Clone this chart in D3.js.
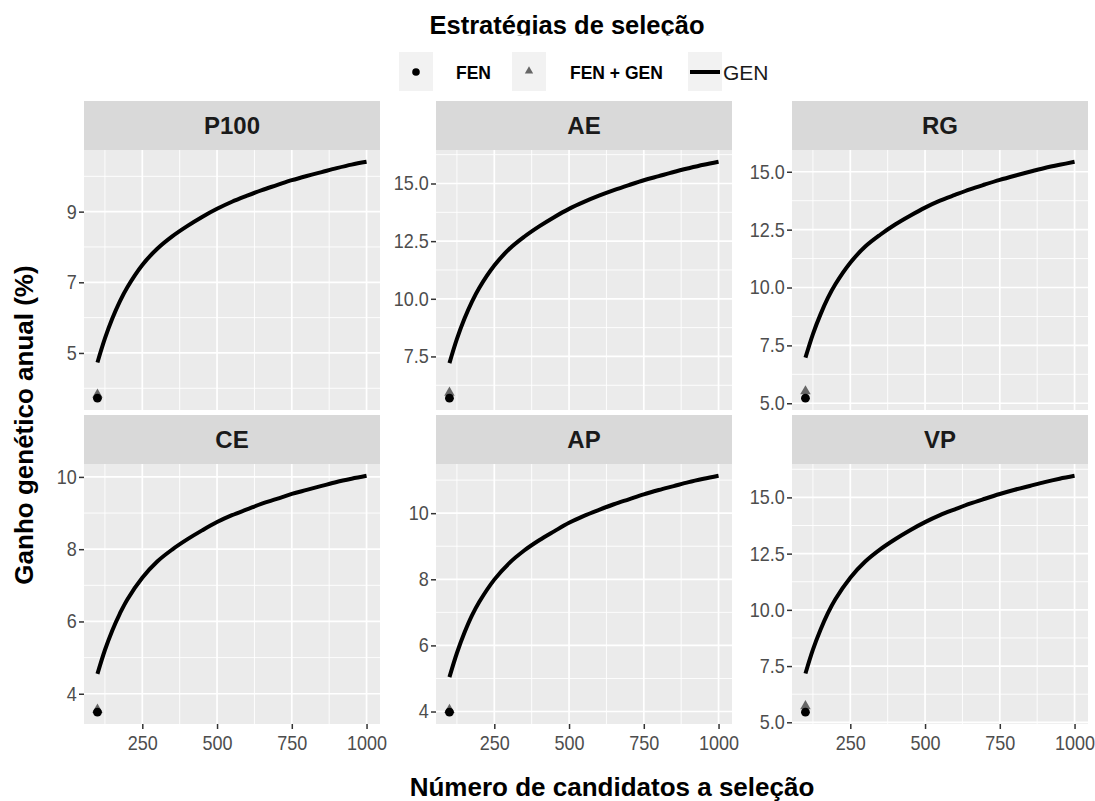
<!DOCTYPE html>
<html>
<head>
<meta charset="utf-8">
<script src="https://cdn.jsdelivr.net/npm/d3@7"></script>
<style>
body { margin: 0; background: #fff; }
svg { display: block; font-family: "Liberation Sans", Arial, Helvetica, sans-serif; }
</style>
</head>
<body>
<div id="chart"></div>
<script>
// Número de candidatos (eixo x)
const candidatos = [100, 125, 150, 175, 200, 250, 300, 350, 400, 450, 500, 550, 600, 650, 700, 750, 800, 850, 900, 950, 1000];

// GEN - ganho genético anual (%)
const genP100 = [4.73, 5.41, 5.98, 6.46, 6.86, 7.49, 7.95, 8.30, 8.59, 8.85, 9.08, 9.28, 9.45, 9.61, 9.75, 9.89, 10.01, 10.12, 10.23, 10.33, 10.41];
const genAE   = [7.21, 8.26, 9.13, 9.87, 10.48, 11.44, 12.16, 12.69, 13.14, 13.54, 13.90, 14.20, 14.47, 14.71, 14.93, 15.14, 15.32, 15.50, 15.66, 15.81, 15.94];
const genRG   = [6.97, 7.99, 8.83, 9.55, 10.14, 11.07, 11.77, 12.28, 12.72, 13.10, 13.45, 13.75, 14.00, 14.24, 14.45, 14.65, 14.83, 15.00, 15.16, 15.30, 15.43];
const genCE   = [4.55, 5.21, 5.76, 6.22, 6.61, 7.21, 7.66, 7.99, 8.27, 8.52, 8.75, 8.94, 9.10, 9.26, 9.39, 9.53, 9.64, 9.75, 9.86, 9.95, 10.03];
const genAP   = [5.04, 5.77, 6.38, 6.90, 7.32, 7.99, 8.49, 8.87, 9.18, 9.45, 9.71, 9.92, 10.10, 10.27, 10.42, 10.57, 10.70, 10.82, 10.94, 11.04, 11.13];
const genVP   = [7.17, 8.23, 9.10, 9.85, 10.47, 11.43, 12.15, 12.69, 13.14, 13.54, 13.90, 14.21, 14.47, 14.72, 14.94, 15.15, 15.34, 15.51, 15.68, 15.83, 15.96];

// FEN e FEN + GEN (só em 100 candidatos)
const paineis = ["P100", "AE", "RG", "CE", "AP", "VP"];
const pontoX = 100;
const fen    = [3.72, 5.69, 5.22, 3.49, 3.98, 5.45];
const fenGen = [3.82, 5.93, 5.52, 3.56, 4.05, 5.72];

// ticks
const xTicks = [250, 500, 750, 1000];
const ticksP100 = [5, 7, 9];
const ticksAE = [7.5, 10, 12.5, 15];
const ticksRG = [5, 7.5, 10, 12.5, 15];
const ticksCE = [4, 6, 8, 10];
const ticksAP = [4, 6, 8, 10];
const ticksVP = [5, 7.5, 10, 12.5, 15];

const genSeries = [genP100, genAE, genRG, genCE, genAP, genVP];
const yTicks = [ticksP100, ticksAE, ticksRG, ticksCE, ticksAP, ticksVP];
const yFormats = ["d", ".1f", ".1f", "d", "d", ".1f"];

// layout
const W = 1095, H = 801;
const colX = [84, 436, 792];
const rowY = [101, 415];
const panelW = 296, stripH = 49, panelH = 260;

const svg = d3.select("#chart")
    .append("svg")
    .attr("width", W)
    .attr("height", H);

// x scale shared (ggplot 5% expansion)
const xMin = d3.min(candidatos), xMax = d3.max(candidatos);
const xPad = (xMax - xMin) * 0.05;
const xScale = d3.scaleLinear().domain([xMin - xPad, xMax + xPad]).range([0, panelW]);

const minorOf = (ticks, domain) => {
    const step = ticks[1] - ticks[0];
    const out = [ticks[0] - step / 2];
    ticks.forEach(t => out.push(t + step / 2));
    return out.filter(v => v > domain[0] && v < domain[1]);
};

const line = d3.line()
    .x((d, i) => xScale(candidatos[i]))
    .y(d => d)
    .curve(d3.curveCatmullRom.alpha(0.5));

// tick text style (labels a bit condensed like the reference)
const styleTicks = (axisG) => {
    axisG.select(".domain").remove();
    axisG.selectAll(".tick line").attr("stroke", "#333").attr("stroke-width", 1.5);
    axisG.selectAll(".tick text")
        .attr("fill", "#4d4d4d")
        .attr("font-size", 20)
        .attr("font-family", null)
        .attr("transform", "scale(0.9,1)");
};

paineis.forEach((name, k) => {
    const col = k % 3, row = Math.floor(k / 3);
    const g = svg.append("g")
        .attr("transform", `translate(${colX[col]}, ${rowY[row]})`);

    // strip
    g.append("rect")
        .attr("width", panelW).attr("height", stripH)
        .attr("fill", "#d9d9d9");
    g.append("text")
        .attr("x", panelW / 2).attr("y", stripH / 2 + 8.5)
        .attr("text-anchor", "middle")
        .attr("font-size", 24).attr("font-weight", "bold")
        .attr("fill", "#1a1a1a")
        .text(name);

    const p = g.append("g").attr("transform", `translate(0, ${stripH})`);

    // y scale per panel
    const vals = genSeries[k].concat([fen[k], fenGen[k]]);
    const [lo, hi] = d3.extent(vals);
    const pad = (hi - lo) * 0.05;
    const yScale = d3.scaleLinear().domain([lo - pad, hi + pad]).range([panelH, 0]);

    p.append("rect").attr("width", panelW).attr("height", panelH).attr("fill", "#ebebeb");

    // minor grid
    minorOf(yTicks[k], yScale.domain()).forEach(v => {
        p.append("line").attr("x1", 0).attr("x2", panelW)
            .attr("y1", yScale(v)).attr("y2", yScale(v))
            .attr("stroke", "#fff").attr("stroke-width", 0.9);
    });
    minorOf(xTicks, xScale.domain()).forEach(v => {
        p.append("line").attr("y1", 0).attr("y2", panelH)
            .attr("x1", xScale(v)).attr("x2", xScale(v))
            .attr("stroke", "#fff").attr("stroke-width", 0.9);
    });
    // major grid
    yTicks[k].forEach(v => {
        p.append("line").attr("x1", 0).attr("x2", panelW)
            .attr("y1", yScale(v)).attr("y2", yScale(v))
            .attr("stroke", "#fff").attr("stroke-width", 1.7);
    });
    xTicks.forEach(v => {
        p.append("line").attr("y1", 0).attr("y2", panelH)
            .attr("x1", xScale(v)).attr("x2", xScale(v))
            .attr("stroke", "#fff").attr("stroke-width", 1.7);
    });

    // GEN line
    p.append("path")
        .datum(genSeries[k].map(v => yScale(v)))
        .attr("fill", "none")
        .attr("stroke", "#000")
        .attr("stroke-width", 4)
        .attr("d", line);

    // FEN + GEN triangle, then FEN circle
    p.append("path")
        .attr("d", d3.symbol(d3.symbolTriangle, 48)())
        .attr("transform", `translate(${xScale(pontoX)}, ${yScale(fenGen[k])})`)
        .attr("fill", "#666");
    p.append("circle")
        .attr("cx", xScale(pontoX)).attr("cy", yScale(fen[k]))
        .attr("r", 4.4).attr("fill", "#000");

    // y axis
    const ya = p.append("g")
        .call(d3.axisLeft(yScale).tickValues(yTicks[k]).tickFormat(d3.format(yFormats[k])).tickSize(5).tickPadding(3));
    styleTicks(ya);

    // x axis only bottom row
    if (row === 1) {
        const xa = p.append("g")
            .attr("transform", `translate(0, ${panelH})`)
            .call(d3.axisBottom(xScale).tickValues(xTicks).tickFormat(d3.format("d")).tickSize(5).tickPadding(7));
        styleTicks(xa);
    }
});

// axis titles
svg.append("text")
    .attr("x", 612).attr("y", 796)
    .attr("text-anchor", "middle")
    .attr("font-size", 26).attr("font-weight", "bold")
    .text("Número de candidatos a seleção");

svg.append("text")
    .attr("transform", "translate(33, 425) rotate(-90)")
    .attr("text-anchor", "middle")
    .attr("font-size", 26).attr("font-weight", "bold")
    .text("Ganho genético anual (%)");

// legend
svg.append("clipPath").attr("id", "clipTitle")
    .append("rect").attr("x", 0).attr("y", 0).attr("width", W).attr("height", 35.5);
svg.append("text")
    .attr("clip-path", "url(#clipTitle)")
    .attr("x", 567).attr("y", 34)
    .attr("text-anchor", "middle")
    .attr("font-size", 25.5).attr("font-weight", "bold")
    .text("Estratégias de seleção");

const legKeys = [399, 512, 688];
legKeys.forEach(x => {
    svg.append("rect").attr("x", x).attr("y", 52).attr("width", 34).attr("height", 39).attr("fill", "#f2f2f2");
});
svg.append("circle").attr("cx", 416).attr("cy", 72).attr("r", 3.8).attr("fill", "#000");
svg.append("path")
    .attr("d", d3.symbol(d3.symbolTriangle, 30)())
    .attr("transform", "translate(529, 71)")
    .attr("fill", "#666");
svg.append("line").attr("x1", 690).attr("x2", 720).attr("y1", 72).attr("y2", 72)
    .attr("stroke", "#000").attr("stroke-width", 4);

svg.append("text").attr("x", 456).attr("y", 79).attr("font-size", 17.5).attr("font-weight", "bold").text("FEN");
svg.append("text").attr("x", 570).attr("y", 79).attr("font-size", 17.5).attr("font-weight", "bold").text("FEN + GEN");
svg.append("text").attr("x", 723).attr("y", 80).attr("font-size", 21).attr("fill", "#1a1a1a").text("GEN");
</script>
</body>
</html>
